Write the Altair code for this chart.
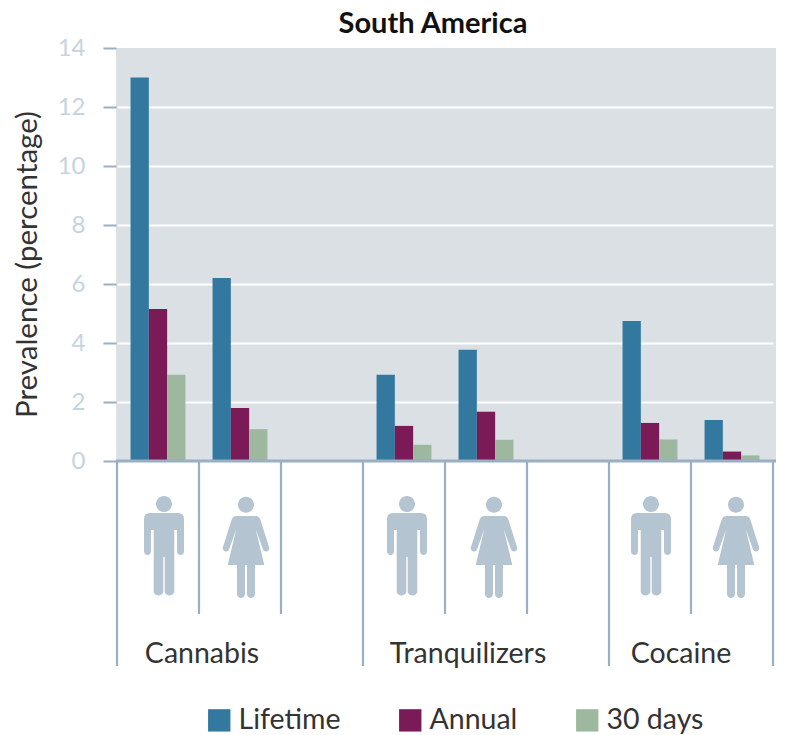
import altair as alt
import pandas as pd

slots = ["s1", "s2", "s3", "s4", "s5", "s6", "s7", "s8"]
bar_slots = ["s1", "s2", "s4", "s5", "s7", "s8"]
series = ["Lifetime", "Annual", "30 days"]
lifetime = [13.0, 6.2, 2.92, 3.77, 4.75, 1.39]
annual = [5.15, 1.8, 1.19, 1.67, 1.29, 0.32]
days30 = [2.92, 1.08, 0.55, 0.72, 0.73, 0.19]
colors = ["#33789f", "#7a1a57", "#9db89f"]
FONT = "Lato"
AXIS = "#9aaec4"
ICON = "#b5c4d1"

rows = []
for name, vals in zip(series, [lifetime, annual, days30]):
    for s, v in zip(bar_slots, vals):
        rows.append({"slot": s, "series": name, "value": v})
df = pd.DataFrame(rows)

xscale = alt.Scale(domain=slots, range=[1, 657], paddingInner=0, paddingOuter=0)
yscale = alt.Scale(domain=[0, 14], nice=False)

bars = alt.Chart(df).mark_bar(size=18.3).encode(
    x=alt.X("slot:N", scale=xscale, axis=None),
    xOffset=alt.XOffset("series:N", sort=series, scale=alt.Scale(domain=series, paddingOuter=0.74, paddingInner=0)),
    y=alt.Y(
        "value:Q",
        scale=yscale,
        axis=alt.Axis(
            values=[0, 2, 4, 6, 8, 10, 12, 14],
            title="Prevalence (percentage)",
            titleFont=FONT,
            titleFontSize=29.5,
            titleFontWeight="normal",
            titleColor="#333333",
            titleX=-74,
            titleY=216,
            labelFont=FONT,
            labelFontSize=24,
            labelColor="#c5d4e0",
            labelPadding=18,
            tickColor=AXIS,
            tickWidth=2,
            tickSize=13,
            domain=False,
            grid=True,
            gridColor="white",
            gridWidth=2,
            gridOpacity={"condition": {"test": "datum.value >= 14", "value": 0}, "value": 1},
        ),
    ),
    color=alt.Color(
        "series:N",
        sort=series,
        scale=alt.Scale(domain=series, range=colors),
        legend=alt.Legend(
            title=None,
            orient="none",
            direction="horizontal",
            legendX=89,
            legendY=658,
            symbolType="square",
            symbolSize=500,
            symbolStrokeWidth=0,
            symbolOpacity=1,
            labelFont=FONT,
            labelFontSize=28.5,
            labelColor="#333333",
            labelOffset=5,
            columnPadding=55,
            padding=0,
        ),
    ),
)

baseline = alt.Chart(pd.DataFrame({"value": [0]})).mark_rule(color=AXIS, strokeWidth=3).encode(
    y=alt.Y("value:Q", scale=yscale),
    x=alt.value(0),
    x2=alt.value(660),
)

long_seps = ["s1", "s4", "s7"]
layers = [bars, baseline]


def sep(slot, bottom, band=0.0):
    return alt.Chart(pd.DataFrame({"slot": [slot]})).mark_rule(color=AXIS, strokeWidth=2.2).encode(
        x=alt.X("slot:N", scale=xscale, axis=None, bandPosition=band),
        y=alt.value(413),
        y2=alt.value(bottom),
    )


for s in ["s2", "s3", "s5", "s6", "s8"]:
    layers.append(sep(s, 566))
for s in long_seps:
    layers.append(sep(s, 618))
layers.append(sep("s8", 618, 1.0))

MALE = (
    "M-14,-37 L14,-37 Q20,-37 20,-31 L20,1.5 A3.5,3.5 0 0 1 13,1.5 L13,-20 L10.3,-20 "
    "L10.3,42 A5,5 0 0 1 0.7,42 L0.7,7 L-0.7,7 L-0.7,42 A5,5 0 0 1 -10.3,42 L-10.3,-20 "
    "L-13,-20 L-13,1.5 A3.5,3.5 0 0 1 -20,1.5 L-20,-31 Q-20,-37 -14,-37 Z "
    "M-8,-46 A8,8 0 1 1 8,-46 A8,8 0 1 1 -8,-46 Z"
)
FEMALE = (
    "M-10,-34 L10,-34 Q13,-34 14.5,-30 L23,-3 A3.2,3.2 0 0 1 17,-0.5 L9.7,-21 L18.3,15 L9,15 "
    "L9,44 A4,4 0 0 1 1,44 L1,15 L-1,15 L-1,44 A4,4 0 0 1 -9,44 L-9,15 L-18.3,15 L-9.7,-21 "
    "L-17,-0.5 A3.2,3.2 0 0 1 -23,-3 L-14.5,-30 Q-13,-34 -10,-34 Z "
    "M-8,-45.3 A8,8 0 1 1 8,-45.3 A8,8 0 1 1 -8,-45.3 Z"
)
icons = [
    ("s1", MALE, 47), ("s2", FEMALE, 47),
    ("s4", MALE, 44), ("s5", FEMALE, 49),
    ("s7", MALE, 42), ("s8", FEMALE, 45),
]
for s, path, off in icons:
    layers.append(
        alt.Chart(pd.DataFrame({"slot": [s]}))
        .mark_point(shape=path, size=4, filled=True, fill=ICON, stroke=None, opacity=1)
        .encode(
            x=alt.X("slot:N", scale=xscale, axis=None),
            xOffset=alt.value(off),
            y=alt.value(502),
        )
    )

group_labels = [("Cannabis", "s2", 3), ("Tranquilizers", "s5", 23), ("Cocaine", "s8", -10)]
for text, s, off in group_labels:
    layers.append(
        alt.Chart(pd.DataFrame({"slot": [s], "label": [text]}))
        .mark_text(font=FONT, fontSize=28.5, color="#333333", align="center", baseline="middle", dx=off)
        .encode(
            x=alt.X("slot:N", scale=xscale, axis=None, bandPosition=0),
            y=alt.value(606),
            text="label:N",
        )
    )

chart = (
    alt.layer(*layers)
    .properties(
        width=660,
        height=413,
        padding={"left": 108, "top": 40, "right": 2, "bottom": 274},
        autosize=alt.AutoSizeParams(type="none"),
        title=alt.TitleParams(
            "South America",
            font=FONT,
            fontSize=29,
            fontWeight="bold",
            color="#111111",
            anchor="middle",
            dx=-13,
            offset=-3,
        ),
    )
    .configure_view(fill="#dbe0e4", stroke=None)
)

chart.save("out.html", embed_options={"renderer": "svg", "actions": False})
